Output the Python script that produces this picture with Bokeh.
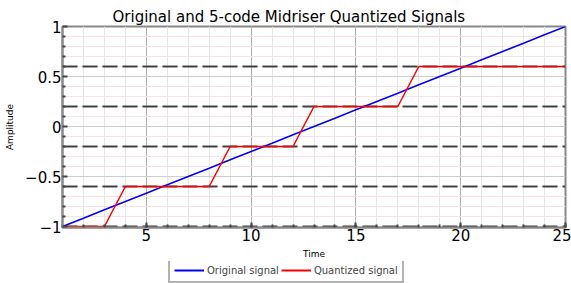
from bokeh.plotting import figure
from bokeh.models import Legend, LegendItem, FixedTicker, Range1d
from bokeh.layouts import column
from bokeh.embed import file_html
from bokeh.resources import INLINE

# ---- data ----
time = [1, 2, 3, 4, 5, 6, 7, 8, 9, 10, 11, 12, 13, 14, 15, 16, 17, 18, 19, 20, 21, 22, 23, 24, 25]
original = [-1.0, -0.917, -0.833, -0.75, -0.667, -0.583, -0.5, -0.417, -0.333, -0.25, -0.167, -0.083,
            0.0, 0.083, 0.167, 0.25, 0.333, 0.417, 0.5, 0.583, 0.667, 0.75, 0.833, 0.917, 1.0]
quantized = [-1.0, -1.0, -1.0, -0.6, -0.6, -0.6, -0.6, -0.6, -0.2, -0.2, -0.2, -0.2,
             0.2, 0.2, 0.2, 0.2, 0.2, 0.6, 0.6, 0.6, 0.6, 0.6, 0.6, 0.6, 0.6]
levels = [-1.0, -0.6, -0.2, 0.2, 0.6]
x_major = [5, 10, 15, 20, 25]
x_minor = list(range(1, 26))
y_major = [-1, -0.5, 0, 0.5, 1]
y_labels = ["\u22121", "\u22120.5", "0", "0.5", "1"]
y_minor = [-0.9, -0.8, -0.7, -0.6, -0.4, -0.3, -0.2, -0.1, 0.1, 0.2, 0.3, 0.4, 0.6, 0.7, 0.8, 0.9]
series_names = ["Original signal", "Quantized signal"]

FONT = "DejaVu Sans"
BLUE = "#0000ff"
RED = "#ff0000"

p = figure(frame_width=503, frame_height=201, output_backend="svg", toolbar_location=None,
           x_range=Range1d(1, 25), y_range=Range1d(-1.01, 1.0),
           min_border_left=62, min_border_right=6, min_border_top=26, min_border_bottom=0)

p.title.text = "Original and 5-code Midriser Quantized Signals"
p.title.text_font = FONT
p.title.text_font_size = "15px"
p.title.text_font_style = "normal"
p.title.align = "left"
p.title.offset = 50
p.title.text_color = "#000000"
p.title.standoff = 2

p.background_fill_color = "white"
p.border_fill_color = "white"
p.outline_line_color = "#888888"
p.outline_line_width = 2

# axes
p.xaxis.ticker = FixedTicker(ticks=x_major, minor_ticks=x_minor)
p.yaxis.ticker = FixedTicker(ticks=y_major, minor_ticks=y_minor)
p.yaxis.major_label_overrides = {v: s for v, s in zip(y_major, y_labels)}
for ax in (p.xaxis[0], p.yaxis[0]):
    ax.major_label_text_font = FONT
    ax.major_label_text_font_size = "15px"
    ax.major_label_text_color = "#000000"
    ax.axis_label_text_font = FONT
    ax.axis_label_text_font_size = "9px"
    ax.axis_label_text_font_style = "normal"
    ax.axis_label_text_color = "#000000"
    ax.axis_line_color = "#888888"
    ax.axis_line_width = 2
    ax.major_tick_in = 5
    ax.major_tick_out = 0
    ax.minor_tick_in = 3
    ax.minor_tick_out = 0
    ax.major_tick_line_color = "#444444"
    ax.minor_tick_line_color = "#444444"
    ax.major_tick_line_width = 2
    ax.minor_tick_line_width = 2
    ax.major_label_standoff = 1
p.xaxis.axis_label_standoff = 5
p.yaxis.axis_label_standoff = 7
p.xaxis.axis_label = "Time"
p.yaxis.axis_label = "Amplitude"

# grids
p.xgrid.grid_line_color = "#b0b0b0"
p.xgrid.minor_grid_line_color = "#e6e6e6"
p.ygrid.grid_line_color = "#cccccc"
p.ygrid.minor_grid_line_color = "#f9e1ea"

# quantization level lines
for lv in levels:
    p.line([time[0], time[-1]], [lv, lv], line_color="#404040", line_width=2, line_dash="15 5")

p.line(time, original, line_color=BLUE, line_width=1.5)
p.line(time, quantized, line_color=RED, line_width=1.5)

# legend strip below the axes
q = figure(width=571, height=26, output_backend="svg", toolbar_location=None,
           x_axis_type=None, y_axis_type=None, x_range=Range1d(1, 25), y_range=Range1d(-1, 1),
           min_border=0)
q.outline_line_color = None
q.xgrid.visible = False
q.ygrid.visible = False
q.border_fill_color = "white"
q.background_fill_color = "white"
lo = q.line(time, original, line_color=BLUE, line_width=2, visible=False)
lq = q.line(time, quantized, line_color=RED, line_width=2, visible=False)

legend = Legend(items=[LegendItem(label=series_names[0], renderers=[lo]),
                       LegendItem(label=series_names[1], renderers=[lq])],
                orientation="horizontal", location=(106, 4),
                label_text_font=FONT, label_text_font_size="10px",
                border_line_color="#666666", border_line_width=2,
                glyph_width=30, glyph_height=14, label_standoff=3,
                padding=4, spacing=2, margin=0,
                label_height=14)
q.add_layout(legend, "center")

layout = column(p, q, spacing=0)
open("out.html", "w").write(file_html(layout, INLINE))
